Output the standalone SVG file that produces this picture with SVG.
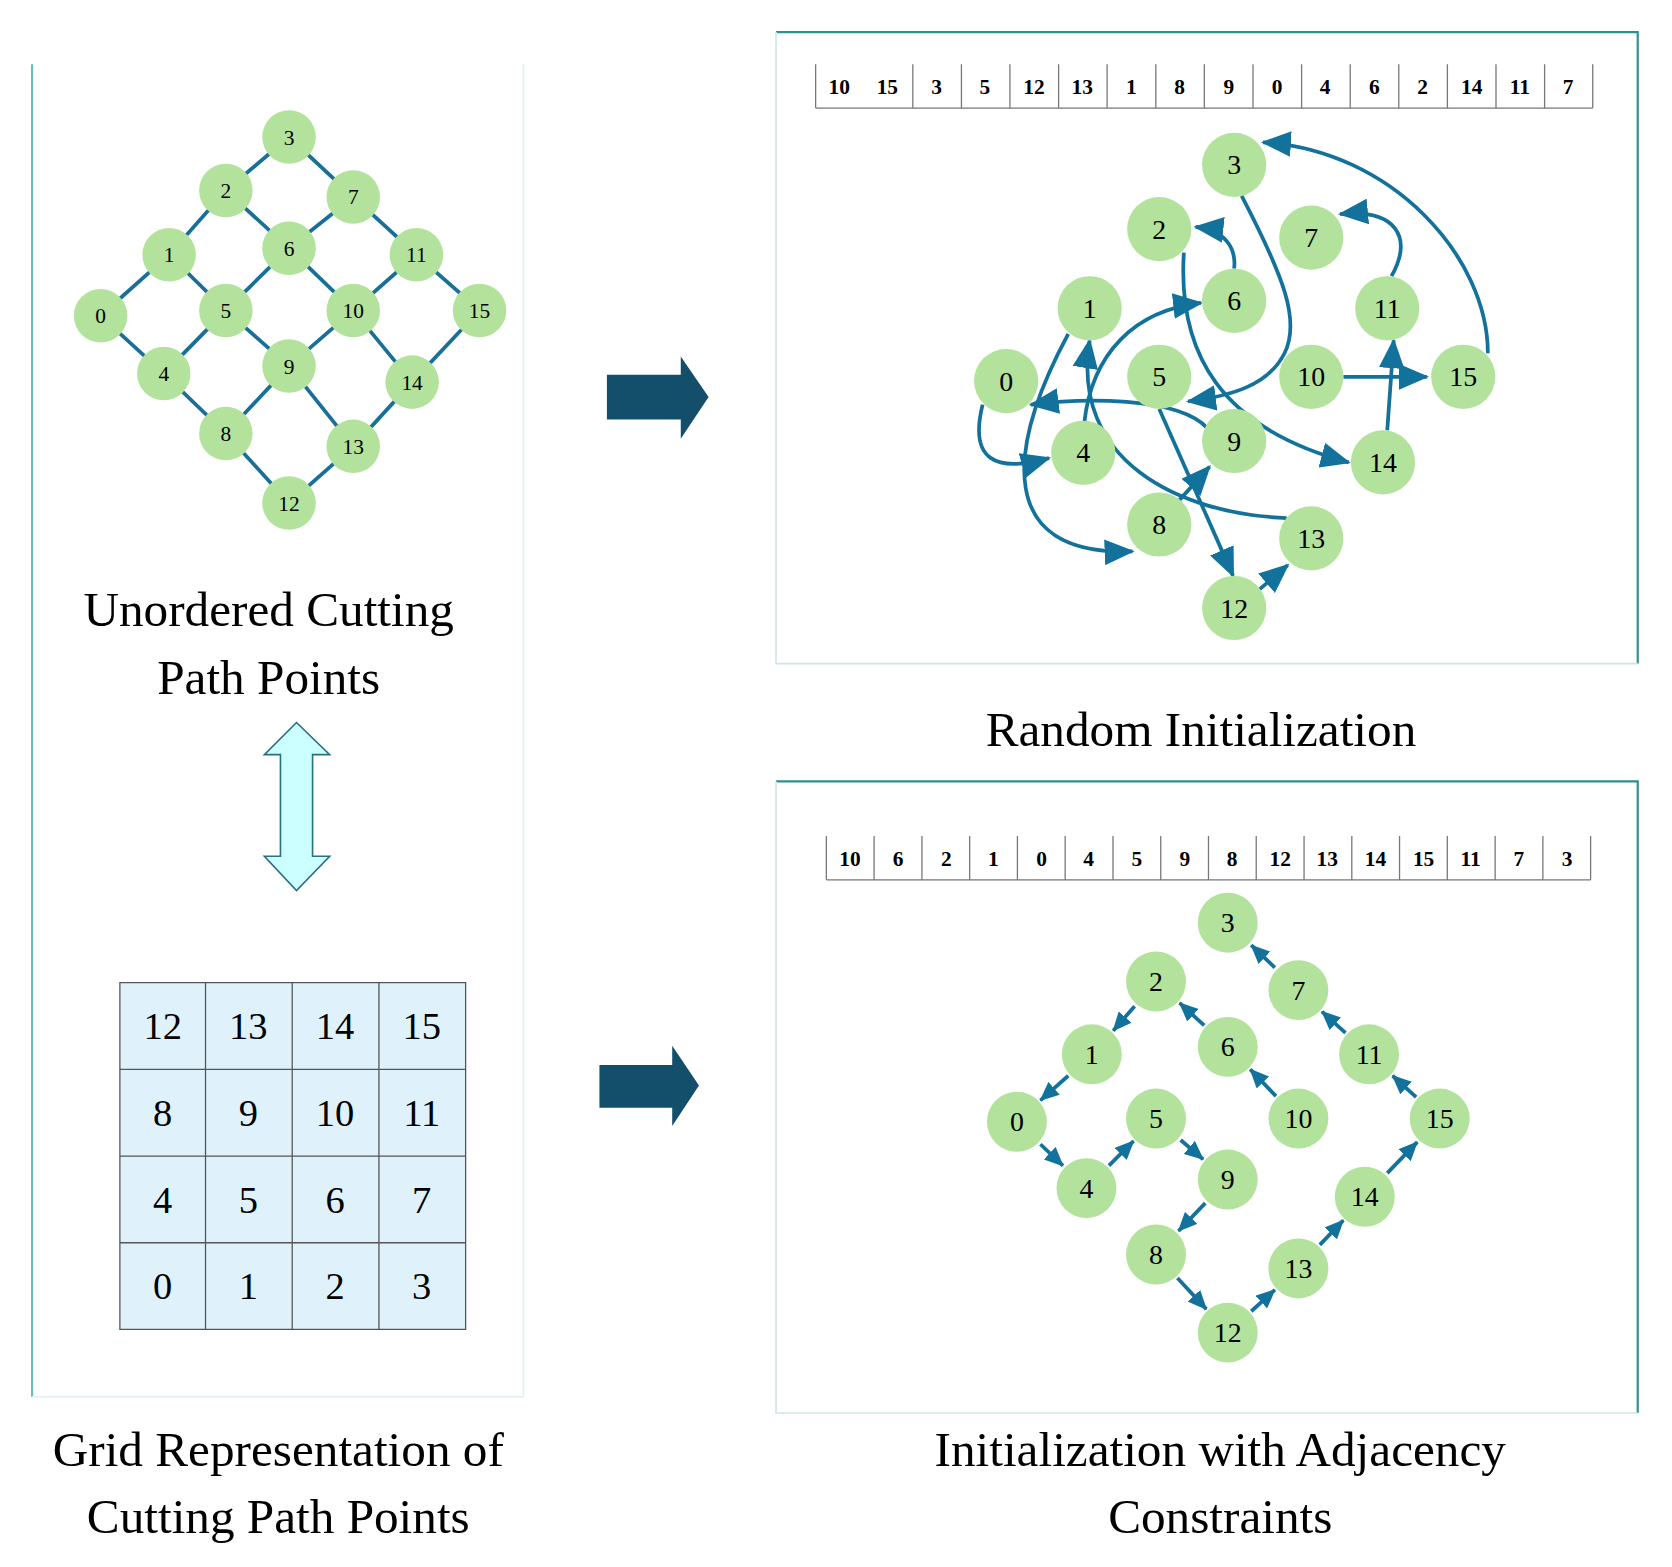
<svg xmlns="http://www.w3.org/2000/svg" width="1672" height="1567" viewBox="0 0 1672 1567">
<style>
.t{font-family:"Liberation Serif","Times New Roman",serif;fill:#000;text-anchor:middle}
.cap{font-size:46px}
.n{fill:#b3e29c}
.ln{font-size:20px}
.lr{font-size:26px}
.ge{stroke:#1a6f98;stroke-width:3.5;fill:none}
.c{stroke:#13729b;stroke-width:3.5;fill:none}
.c1{marker-end:url(#ah)}
.c2{marker-end:url(#ah2)}
.seq{font-size:20px;font-weight:bold}
.sep{stroke:#777;stroke-width:1.2}
.gt{font-size:36px}
</style>
<defs>
<marker id="ah" markerUnits="userSpaceOnUse" markerWidth="28" markerHeight="24" viewBox="0 0 28 24" refX="26" refY="12" orient="auto"><path d="M0,0 L28,12 L0,24 Z" fill="#13729b"/></marker>
<marker id="ah2" markerUnits="userSpaceOnUse" markerWidth="18" markerHeight="16" viewBox="0 0 18 16" refX="17" refY="8" orient="auto"><path d="M0,0 L18,8 L0,16 Z" fill="#13729b"/></marker>
</defs>
<rect width="1672" height="1567" fill="#fff"/>
<g transform="scale(1.0704)">
<g id="left-panel">
<line x1="30" y1="60" x2="30" y2="1305" stroke="#6ab8b8" stroke-width="2"/>
<line x1="489" y1="60" x2="489" y2="1305" stroke="#e3f0f0" stroke-width="1.5"/>
<line x1="30" y1="1305" x2="489" y2="1305" stroke="#e3f0f0" stroke-width="1.5"/>
</g>
<g id="grid-edges">
<path class="ge" d="M94,295L158,238L211,178L270,128L330,184L389,238L448,290L385,357L330,417L270,470L211,405L153,349Z M158,238L211,290L153,349 M211,178L270,232L330,184 M270,232L211,290 M270,232L330,290L389,238 M330,290L385,357 M211,290L270,342L211,405 M270,342L330,290 M270,342L330,417"/>
</g>
<g id="grid-nodes">
<g id="g0"><circle class="n" cx="94" cy="295" r="25"/><text class="t ln" x="94" y="302">0</text></g>
<g id="g1"><circle class="n" cx="158" cy="238" r="25"/><text class="t ln" x="158" y="245">1</text></g>
<g id="g2"><circle class="n" cx="211" cy="178" r="25"/><text class="t ln" x="211" y="185">2</text></g>
<g id="g3"><circle class="n" cx="270" cy="128" r="25"/><text class="t ln" x="270" y="135">3</text></g>
<g id="g4"><circle class="n" cx="153" cy="349" r="25"/><text class="t ln" x="153" y="356">4</text></g>
<g id="g5"><circle class="n" cx="211" cy="290" r="25"/><text class="t ln" x="211" y="297">5</text></g>
<g id="g6"><circle class="n" cx="270" cy="232" r="25"/><text class="t ln" x="270" y="239">6</text></g>
<g id="g7"><circle class="n" cx="330" cy="184" r="25"/><text class="t ln" x="330" y="191">7</text></g>
<g id="g8"><circle class="n" cx="211" cy="405" r="25"/><text class="t ln" x="211" y="412">8</text></g>
<g id="g9"><circle class="n" cx="270" cy="342" r="25"/><text class="t ln" x="270" y="349">9</text></g>
<g id="g10"><circle class="n" cx="330" cy="290" r="25"/><text class="t ln" x="330" y="297">10</text></g>
<g id="g11"><circle class="n" cx="389" cy="238" r="25"/><text class="t ln" x="389" y="245">11</text></g>
<g id="g12"><circle class="n" cx="270" cy="470" r="25"/><text class="t ln" x="270" y="477">12</text></g>
<g id="g13"><circle class="n" cx="330" cy="417" r="25"/><text class="t ln" x="330" y="424">13</text></g>
<g id="g14"><circle class="n" cx="385" cy="357" r="25"/><text class="t ln" x="385" y="364">14</text></g>
<g id="g15"><circle class="n" cx="448" cy="290" r="25"/><text class="t ln" x="448" y="297">15</text></g>
</g>
<text class="t cap" x="251" y="585">Unordered Cutting</text>
<text class="t cap" x="251" y="648">Path Points</text>
<g id="double-arrow"><path d="M277,675 L308,705 L292,705 L292,800 L308,800 L277,832 L247,800 L262,800 L262,705 L247,705 Z" fill="#ccffff" stroke="#2a6f80" stroke-width="1.5"/></g>
<g id="grid-table">
<rect x="112" y="918" width="323" height="324" fill="#dff2fb"/>
<path d="M112,918H435V1242H112Z M192,918V1242 M273,918V1242 M354,918V1242 M112,999H435 M112,1080H435 M112,1161H435" stroke="#555" stroke-width="1.2" fill="none"/>
<text class="t gt" x="152" y="971">12</text><text class="t gt" x="232" y="971">13</text><text class="t gt" x="313" y="971">14</text><text class="t gt" x="394" y="971">15</text>
<text class="t gt" x="152" y="1052">8</text><text class="t gt" x="232" y="1052">9</text><text class="t gt" x="313" y="1052">10</text><text class="t gt" x="394" y="1052">11</text>
<text class="t gt" x="152" y="1133">4</text><text class="t gt" x="232" y="1133">5</text><text class="t gt" x="313" y="1133">6</text><text class="t gt" x="394" y="1133">7</text>
<text class="t gt" x="152" y="1214">0</text><text class="t gt" x="232" y="1214">1</text><text class="t gt" x="313" y="1214">2</text><text class="t gt" x="394" y="1214">3</text>
</g>
<text class="t cap" x="260" y="1370">Grid Representation of</text>
<text class="t cap" x="260" y="1432">Cutting Path Points</text>
<g id="arrow-top"><path d="M567,350 H636 V333 L662,371 L636,410 V392 H567 Z" fill="#134e6a"/></g>
<g id="arrow-bottom"><path d="M560,995 H628 V977 L653,1014 L628,1052 V1035 H560 Z" fill="#134e6a"/></g>

<g id="panel-random">
<path d="M725,30 H1530 V620" stroke="#2a9090" stroke-width="2" fill="none"/>
<path d="M725,30 V620 H1530" stroke="#cfe6e6" stroke-width="1.5" fill="none"/>
<rect x="762" y="60" width="726" height="41" fill="#fff"/>
<path class="sep" d="M762,60V101 M1488,60V101 M762,101H1488 M852.8,60V101 M898.2,60V101 M943.5,60V101 M989,60V101 M1034.3,60V101 M1079.8,60V101 M1125.1,60V101 M1170.6,60V101 M1216,60V101 M1261.4,60V101 M1306.8,60V101 M1352.2,60V101 M1397.6,60V101 M1443,60V101"/>
<g class="t seq">
<text x="784" y="88">10</text><text x="829" y="88">15</text><text x="875" y="88">3</text><text x="920" y="88">5</text><text x="966" y="88">12</text><text x="1011" y="88">13</text><text x="1057" y="88">1</text><text x="1102" y="88">8</text><text x="1148" y="88">9</text><text x="1193" y="88">0</text><text x="1238" y="88">4</text><text x="1284" y="88">6</text><text x="1329" y="88">2</text><text x="1375" y="88">14</text><text x="1420" y="88">11</text><text x="1465" y="88">7</text>
</g>
</g>
<g id="random-connectors">
<path class="c c1" d="M1255,352 L1333,352"/>
<path class="c c1" d="M1390,330 C1390,240 1300,140 1180,133"/>
<path class="c c1" d="M1160,183 C1200,260 1215,300 1200,330 C1185,360 1150,370 1110,375"/>
<path class="c c1" d="M1083,382 L1152,538"/>
<path class="c c1" d="M1175,552 L1203,528"/>
<path class="c c1" d="M1202,484 C1100,480 1000,430 1018,318"/>
<path class="c c1" d="M998,312 C940,420 930,520 1058,515"/>
<path class="c c1" d="M1102,467 L1130,436"/>
<path class="c c1" d="M1128,400 C1100,370 1010,372 963,378"/>
<path class="c c1" d="M918,378 C905,430 930,442 980,428"/>
<path class="c c1" d="M1013,395 C1020,330 1060,290 1122,283"/>
<path class="c c1" d="M1153,251 C1155,232 1145,215 1117,212"/>
<path class="c c1" d="M1106,236 C1100,330 1140,400 1260,432"/>
<path class="c c1" d="M1296,402 L1302,318"/>
<path class="c c1" d="M1300,258 C1320,222 1305,195 1252,200"/>
</g>
<g id="random-nodes">
<g id="r3"><circle class="n" cx="1153" cy="154" r="30"/><text class="t lr" x="1153" y="163">3</text></g>
<g id="r2"><circle class="n" cx="1083" cy="214" r="30"/><text class="t lr" x="1083" y="223">2</text></g>
<g id="r7"><circle class="n" cx="1225" cy="222" r="30"/><text class="t lr" x="1225" y="231">7</text></g>
<g id="r1"><circle class="n" cx="1018" cy="288" r="30"/><text class="t lr" x="1018" y="297">1</text></g>
<g id="r6"><circle class="n" cx="1153" cy="281" r="30"/><text class="t lr" x="1153" y="290">6</text></g>
<g id="r11"><circle class="n" cx="1296" cy="288" r="30"/><text class="t lr" x="1296" y="297">11</text></g>
<g id="r0"><circle class="n" cx="940" cy="356" r="30"/><text class="t lr" x="940" y="365">0</text></g>
<g id="r5"><circle class="n" cx="1083" cy="352" r="30"/><text class="t lr" x="1083" y="361">5</text></g>
<g id="r10"><circle class="n" cx="1225" cy="352" r="30"/><text class="t lr" x="1225" y="361">10</text></g>
<g id="r15"><circle class="n" cx="1367" cy="352" r="30"/><text class="t lr" x="1367" y="361">15</text></g>
<g id="r4"><circle class="n" cx="1012" cy="423" r="30"/><text class="t lr" x="1012" y="432">4</text></g>
<g id="r9"><circle class="n" cx="1153" cy="412" r="30"/><text class="t lr" x="1153" y="421">9</text></g>
<g id="r14"><circle class="n" cx="1292" cy="432" r="30"/><text class="t lr" x="1292" y="441">14</text></g>
<g id="r8"><circle class="n" cx="1083" cy="490" r="30"/><text class="t lr" x="1083" y="499">8</text></g>
<g id="r13"><circle class="n" cx="1225" cy="503" r="30"/><text class="t lr" x="1225" y="512">13</text></g>
<g id="r12"><circle class="n" cx="1153" cy="568" r="30"/><text class="t lr" x="1153" y="577">12</text></g>
</g>
<text class="t cap" x="1122" y="697">Random Initialization</text>

<g id="panel-adjacency">
<path d="M725,730 H1530 V1320" stroke="#2a9090" stroke-width="2" fill="none"/>
<path d="M725,730 V1320 H1530" stroke="#cfe6e6" stroke-width="1.5" fill="none"/>
<path class="sep" d="M772,781V822 M1486,781V822 M772,822H1486 M816.6,781V822 M861.3,781V822 M905.9,781V822 M950.5,781V822 M995.1,781V822 M1039.8,781V822 M1084.4,781V822 M1129,781V822 M1173.6,781V822 M1218.3,781V822 M1262.9,781V822 M1307.5,781V822 M1352.1,781V822 M1396.8,781V822 M1441.4,781V822"/>
<g class="t seq">
<text x="794" y="809">10</text><text x="839" y="809">6</text><text x="884" y="809">2</text><text x="928" y="809">1</text><text x="973" y="809">0</text><text x="1017" y="809">4</text><text x="1062" y="809">5</text><text x="1107" y="809">9</text><text x="1151" y="809">8</text><text x="1196" y="809">12</text><text x="1240" y="809">13</text><text x="1285" y="809">14</text><text x="1330" y="809">15</text><text x="1374" y="809">11</text><text x="1419" y="809">7</text><text x="1464" y="809">3</text>
</g>
</g>
<g id="adjacency-connectors">
<path class="c c2" d="M1192,1024L1168,999"/>
<path class="c c2" d="M1125,958L1102,937"/>
<path class="c c2" d="M1060,940L1040,963"/>
<path class="c c2" d="M998,1005L972,1028"/>
<path class="c c2" d="M972,1069L993,1089"/>
<path class="c c2" d="M1036,1089L1059,1066"/>
<path class="c c2" d="M1103,1065L1124,1083"/>
<path class="c c2" d="M1126,1124L1101,1150"/>
<path class="c c2" d="M1100,1194L1127,1223"/>
<path class="c c2" d="M1169,1225L1191,1205"/>
<path class="c c2" d="M1233,1163L1255,1140"/>
<path class="c c2" d="M1296,1096L1324,1067"/>
<path class="c c2" d="M1323,1025L1301,1005"/>
<path class="c c2" d="M1257,965L1235,945"/>
<path class="c c2" d="M1191,904L1169,883"/>
</g>
<g id="adjacency-nodes">
<g id="a3"><circle class="n" cx="1147" cy="862" r="28"/><text class="t lr" x="1147" y="871">3</text></g>
<g id="a2"><circle class="n" cx="1080" cy="917" r="28"/><text class="t lr" x="1080" y="926">2</text></g>
<g id="a7"><circle class="n" cx="1213" cy="925" r="28"/><text class="t lr" x="1213" y="934">7</text></g>
<g id="a1"><circle class="n" cx="1020" cy="985" r="28"/><text class="t lr" x="1020" y="994">1</text></g>
<g id="a6"><circle class="n" cx="1147" cy="978" r="28"/><text class="t lr" x="1147" y="987">6</text></g>
<g id="a11"><circle class="n" cx="1279" cy="985" r="28"/><text class="t lr" x="1279" y="994">11</text></g>
<g id="a0"><circle class="n" cx="950" cy="1048" r="28"/><text class="t lr" x="950" y="1057">0</text></g>
<g id="a5"><circle class="n" cx="1080" cy="1045" r="28"/><text class="t lr" x="1080" y="1054">5</text></g>
<g id="a10"><circle class="n" cx="1213" cy="1045" r="28"/><text class="t lr" x="1213" y="1054">10</text></g>
<g id="a15"><circle class="n" cx="1345" cy="1045" r="28"/><text class="t lr" x="1345" y="1054">15</text></g>
<g id="a4"><circle class="n" cx="1015" cy="1110" r="28"/><text class="t lr" x="1015" y="1119">4</text></g>
<g id="a9"><circle class="n" cx="1147" cy="1102" r="28"/><text class="t lr" x="1147" y="1111">9</text></g>
<g id="a14"><circle class="n" cx="1275" cy="1118" r="28"/><text class="t lr" x="1275" y="1127">14</text></g>
<g id="a8"><circle class="n" cx="1080" cy="1172" r="28"/><text class="t lr" x="1080" y="1181">8</text></g>
<g id="a13"><circle class="n" cx="1213" cy="1185" r="28"/><text class="t lr" x="1213" y="1194">13</text></g>
<g id="a12"><circle class="n" cx="1147" cy="1245" r="28"/><text class="t lr" x="1147" y="1254">12</text></g>
</g>
<text class="t cap" x="1140" y="1370">Initialization with Adjacency</text>
<text class="t cap" x="1140" y="1432">Constraints</text>
</g>
</svg>
